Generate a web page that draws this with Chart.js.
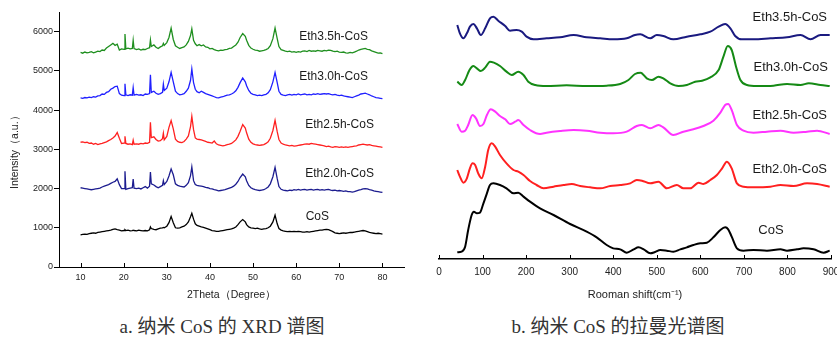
<!doctype html>
<html lang="zh">
  <head>
    <meta charset="UTF-8" />
    <title>纳米 CoS 的 XRD 与拉曼光谱</title>
    <style>
      html, body {
        margin: 0;
        padding: 0;
        background: #fff;
      }
      #page {
        position: relative;
        width: 837px;
        height: 338px;
        overflow: hidden;
      }
      canvas {
        position: absolute;
        top: 0;
      }
      #xrd { left: 0; }
      #raman { left: 420px; }
      .caption {
        position: absolute;
        top: 316px;
        font-family: 'Liberation Serif', 'Noto Sans CJK SC', serif;
        font-size: 19px;
        line-height: 22px;
        color: #333;
        text-align: center;
        white-space: nowrap;
      }
      #cap-a { left: 0; width: 444px; }
      #cap-b { left: 418px; width: 400px; }
    </style>
  </head>
  <body>
    <div id="page">
      <canvas id="xrd" width="420" height="310"></canvas>
      <canvas id="raman" width="417" height="310"></canvas>
      <div class="caption" id="cap-a">a. 纳米 CoS 的 XRD 谱图</div>
      <div class="caption" id="cap-b">b. 纳米 CoS 的拉曼光谱图</div>
    </div>

    <script src="https://cdn.jsdelivr.net/npm/chart.js"></script>
    <script>
      // ---- XRD (left) ----
      const sampleNames = ['Eth3.5h-CoS', 'Eth3.0h-CoS', 'Eth2.5h-CoS', 'Eth2.0h-CoS', 'CoS'];

      const xrdTheta = [
        10, 10.5, 11, 11.5, 12, 12.5, 13, 13.5, 14, 14.5,
        15, 15.5, 16, 16.5, 17, 17.5, 18, 18.5, 19, 19.5,
        20.1, 20.3, 20.5, 21, 21.5, 22.0, 22.2, 22.4, 23, 23.5,
        24, 24.5, 25, 25.5, 26.0, 26.2, 26.4, 27, 27.5, 28,
        28.5, 29.0, 29.2, 29.4, 30, 30.5, 31, 31.5, 32, 32.5,
        33, 33.5, 34, 34.5, 35, 35.5, 35.8, 36.2, 36.6, 37,
        37.5, 38, 38.5, 39, 39.5, 40, 40.5, 41, 41.5, 42,
        42.5, 43, 43.5, 44, 44.5, 45, 45.5, 46, 46.5, 47,
        47.6, 48.2, 48.5, 49, 49.5, 50, 50.5, 51, 51.5, 52,
        52.5, 53, 53.5, 54, 54.6, 55.1, 55.6, 56, 56.5, 57,
        57.5, 58, 58.5, 59, 59.5, 60, 60.5, 61, 61.5, 62,
        62.5, 63, 63.5, 64, 64.5, 65, 65.5, 66, 66.5, 67,
        67.5, 68, 68.5, 69, 69.5, 70, 70.5, 71, 71.5, 72,
        72.5, 73, 73.5, 74, 74.5, 75, 75.5, 76, 76.5, 77,
        77.5, 78, 78.5, 79, 79.5, 80
      ];
      const xrdEth35 = [
        5470, 5450, 5480, 5460, 5470, 5490, 5460, 5480, 5500, 5490,
        5530, 5520, 5580, 5620, 5660, 5700, 5650, 5680, 5530, 5560,
        5550, 5940, 5560, 5580, 5560, 5570, 5780, 5570, 5540, 5560,
        5530, 5550, 5540, 5570, 5590, 5790, 5620, 5660, 5600, 5570,
        5610, 5640, 5700, 5650, 5720, 5850, 6090, 5800, 5640, 5600,
        5570, 5590, 5610, 5660, 5750, 5900, 6070, 5780, 5690, 5640,
        5670, 5640, 5660, 5610, 5600, 5560, 5570, 5540, 5520, 5510,
        5530, 5520, 5540, 5550, 5570, 5580, 5620, 5660, 5730, 5850,
        5950, 5880, 5780, 5650, 5580, 5550, 5530, 5520, 5500, 5510,
        5520, 5540, 5570, 5640, 5820, 6090, 5820, 5620, 5540, 5520,
        5500, 5490, 5500, 5480, 5490, 5470, 5490, 5480, 5500, 5510,
        5490, 5520, 5500, 5510, 5500, 5520, 5510, 5500, 5520, 5510,
        5530, 5520, 5500, 5490, 5500, 5480, 5470, 5480, 5460, 5450,
        5470, 5460, 5480, 5500, 5530, 5550, 5560, 5570, 5550, 5540,
        5510, 5490, 5470, 5450, 5460, 5440
      ];
      const xrdEth30 = [
        4310, 4300, 4320, 4310, 4330, 4320, 4340, 4330, 4360, 4370,
        4410, 4400, 4450, 4470, 4530, 4560, 4600, 4610, 4420, 4380,
        4370, 4670, 4390, 4370, 4390, 4380, 4570, 4380, 4400, 4380,
        4390, 4370, 4410, 4400, 4420, 4900, 4450, 4480, 4430, 4400,
        4420, 4450, 4660, 4500, 4560, 4720, 4960, 4720, 4480, 4420,
        4390, 4400, 4420, 4480, 4560, 4760, 5050, 4700, 4530, 4470,
        4440, 4480, 4450, 4420, 4400, 4380, 4360, 4340, 4320, 4310,
        4330, 4340, 4360, 4380, 4390, 4410, 4440, 4490, 4580, 4700,
        4820, 4720, 4620, 4500, 4430, 4400, 4390, 4370, 4380, 4370,
        4390, 4400, 4440, 4520, 4720, 4960, 4700, 4480, 4400, 4380,
        4370, 4390, 4400, 4380, 4400, 4390, 4410, 4390, 4400, 4410,
        4390, 4400, 4390, 4410, 4400, 4420, 4400, 4410, 4420, 4410,
        4420, 4400, 4390, 4400, 4380, 4370, 4380, 4360, 4350, 4340,
        4330, 4320, 4340, 4360, 4380, 4410, 4420, 4430, 4410, 4390,
        4360, 4340, 4320, 4310, 4300, 4290
      ];
      const xrdEth25 = [
        3180, 3190, 3170, 3180, 3150, 3160, 3130, 3150, 3120, 3140,
        3150, 3170, 3190, 3220, 3250, 3290, 3340, 3430, 3280, 3150,
        3160, 3330, 3150, 3130, 3140, 3120, 3230, 3130, 3140, 3130,
        3150, 3140, 3160, 3150, 3180, 3690, 3300, 3320, 3250, 3210,
        3220, 3270, 3410, 3240, 3330, 3560, 3730, 3520, 3260, 3200,
        3180, 3170, 3200, 3260, 3340, 3580, 3840, 3500, 3290, 3260,
        3250, 3240, 3220, 3200, 3180, 3170, 3160, 3210, 3140, 3110,
        3100, 3090, 3100, 3120, 3130, 3150, 3190, 3240, 3330, 3460,
        3630, 3540, 3420, 3260, 3180, 3140, 3120, 3110, 3100, 3110,
        3120, 3150, 3190, 3280, 3480, 3740, 3450, 3250, 3160, 3130,
        3110, 3100, 3090, 3100, 3080, 3090, 3100, 3110, 3120, 3130,
        3140, 3130, 3150, 3140, 3130, 3120, 3110, 3100, 3090, 3070,
        3080, 3060, 3050, 3070, 3060, 3050, 3060, 3050, 3060, 3050,
        3060, 3070, 3080, 3090, 3110, 3120, 3130, 3120, 3110, 3120,
        3100, 3090, 3080, 3070, 3060, 3050
      ];
      const xrdEth20 = [
        2020, 2010, 2000, 1990, 1980, 1970, 1980, 1990, 2000, 2010,
        2040, 2060, 2080, 2100, 2130, 2160, 2180, 2250, 2100, 2000,
        2000, 2440, 1980, 2000, 2010, 2020, 2240, 2010, 2000, 2010,
        1990, 2020, 2050, 2010, 2060, 2420, 2120, 2090, 2050, 2020,
        2050, 2080, 2200, 2100, 2180, 2320, 2500, 2350, 2120, 2080,
        2060, 2050, 2040, 2080, 2150, 2330, 2550, 2200, 2100, 2080,
        2070, 2060, 2050, 2030, 2020, 2000, 1990, 1970, 1960, 1940,
        1950, 1960, 1970, 1990, 2010, 2030, 2060, 2110, 2180, 2280,
        2370, 2300, 2200, 2080, 2020, 1990, 1970, 1960, 1950, 1960,
        1970, 2000, 2040, 2120, 2300, 2540, 2250, 2050, 1980, 1960,
        1950, 1940, 1960, 1950, 1970, 1960, 1980, 1960, 1970, 1980,
        1960, 1970, 1980, 1960, 1970, 1980, 1960, 1970, 1960, 1970,
        1980, 1960, 1950, 1960, 1940, 1950, 1940, 1930, 1940, 1920,
        1920, 1910, 1920, 1940, 1960, 1970, 1990, 2000, 1990, 1970,
        1960, 1940, 1930, 1920, 1910, 1900
      ];
      const xrdCoS = [
        820, 830, 840, 830, 850, 860, 870, 860, 880, 890,
        900, 910, 920, 930, 940, 960, 970, 950, 940, 920,
        930, 950, 930, 940, 920, 930, 940, 930, 920, 940,
        930, 920, 930, 920, 950, 1020, 980, 960, 950, 970,
        990, 1000, 1010, 1000, 1040, 1130, 1290, 1130, 1000, 990,
        1000, 1020, 1040, 1080, 1150, 1280, 1370, 1220, 1100, 1060,
        1040, 1020, 1010, 990, 970, 950, 930, 920, 910, 910,
        920, 930, 940, 950, 960, 970, 990, 1020, 1080, 1150,
        1210, 1150, 1080, 1020, 1000, 990, 980, 990, 970, 960,
        970, 980, 1000, 1040, 1150, 1320, 1100, 980, 940, 920,
        910, 900, 910, 900, 910, 900, 910, 900, 890, 890,
        900, 890, 900, 910, 920, 930, 940, 940, 950, 960,
        950, 930, 900, 870, 860, 850, 860, 870, 860, 870,
        880, 880, 890, 900, 910, 920, 930, 920, 900, 880,
        870, 860, 850, 860, 850, 840
      ];
      const xrdThetaTicks = [10, 20, 30, 40, 50, 60, 70, 80];
      const xrdIntensityTicks = [0, 1000, 2000, 3000, 4000, 5000, 6000];
      // where the sample names sit, in data units
      const xrdLabelTheta = [60.7, 60.7, 62.1, 62.1, 62.2];
      const xrdLabelIntensity = [5870, 4850, 3630, 2390, 1270];

      // ---- Raman (right), arbitrary intensity units ----
      const ramanEth35X = [42, 48, 56, 64, 71, 79, 87, 96, 106, 117, 125, 136, 152, 163, 178, 190, 201, 217, 247, 278,
        309, 339, 370, 400, 431, 450, 462, 485, 500, 515, 538, 569, 600, 623, 642, 657, 669, 680, 695, 722,
        761, 799, 830, 853, 876, 897];
      const ramanEth35Y = [702, 677, 662, 677, 697, 705, 692, 672, 692, 722, 727, 715, 699, 685, 687, 682, 667, 659, 662, 665,
        672, 665, 662, 659, 662, 672, 674, 662, 672, 669, 659, 667, 674, 682, 697, 705, 692, 669, 659, 659,
        662, 665, 672, 659, 672, 672];
      const ramanEth30X = [42, 52, 60, 70, 79, 87, 96, 106, 117, 126, 140, 155, 167, 182, 194, 205, 221, 247, 293, 339,
        385, 416, 435, 450, 463, 477, 489, 504, 515, 531, 550, 569, 588, 604, 623, 642, 653, 663, 672, 682,
        692, 707, 730, 768, 799, 830, 849, 876, 897];
      const ramanEth30Y = [532, 522, 537, 567, 579, 572, 564, 574, 592, 589, 579, 562, 552, 562, 552, 532, 522, 519, 521, 519,
        520, 525, 537, 555, 559, 542, 537, 547, 542, 527, 519, 522, 532, 535, 545, 567, 607, 639, 627, 577,
        537, 522, 519, 520, 525, 522, 527, 522, 519];
      const ramanEth25X = [42, 52, 60, 67, 77, 85, 94, 102, 110, 119, 129, 140, 152, 163, 175, 182, 194, 209, 232, 247,
        278, 309, 339, 370, 400, 431, 454, 466, 485, 504, 515, 538, 561, 584, 607, 630, 646, 657, 664, 672,
        684, 699, 722, 753, 784, 814, 845, 868, 897];
      const ramanEth25Y = [405, 382, 385, 402, 432, 422, 399, 405, 432, 449, 442, 429, 419, 405, 412, 417, 402, 387, 375, 379,
        384, 387, 385, 379, 377, 382, 399, 402, 392, 402, 395, 372, 382, 389, 399, 415, 439, 462, 465, 447,
        402, 385, 379, 382, 385, 379, 382, 385, 375];
      const ramanEth20X = [42, 48, 56, 64, 71, 77, 83, 90, 98, 106, 113, 121, 129, 140, 155, 171, 182, 194, 209, 224,
        240, 263, 286, 305, 324, 347, 370, 393, 416, 439, 454, 466, 485, 504, 523, 546, 561, 577, 596, 607,
        623, 638, 650, 661, 672, 684, 699, 722, 761, 784, 814, 845, 868, 897];
      const ramanEth20Y = [267, 247, 229, 242, 272, 287, 282, 257, 242, 277, 327, 347, 337, 312, 287, 267, 262, 252, 234, 222,
        212, 217, 222, 225, 219, 215, 212, 219, 222, 227, 237, 235, 227, 232, 212, 222, 212, 212, 229, 225,
        237, 252, 272, 292, 272, 227, 217, 215, 217, 222, 219, 227, 225, 217];
      const ramanCoSX = [42, 52, 60, 67, 75, 80, 87, 94, 102, 110, 117, 125, 140, 155, 171, 182, 194, 209, 232, 263,
        301, 339, 362, 385, 400, 416, 431, 447, 458, 470, 485, 496, 508, 523, 538, 554, 569, 584, 600, 615,
        630, 646, 657, 664, 672, 684, 699, 722, 753, 784, 799, 822, 837, 860, 883, 897];
      const ramanCoSY = [20, 22, 37, 87, 132, 142, 137, 139, 167, 197, 222, 227, 222, 212, 197, 199, 187, 172, 152, 132,
        105, 82, 65, 42, 32, 29, 19, 29, 35, 29, 17, 21, 27, 25, 22, 29, 35, 42, 47, 49,
        65, 87, 95, 89, 67, 32, 25, 27, 25, 29, 25, 29, 32, 29, 19, 25];
      const ramanShiftTicks = [0, 100, 200, 300, 400, 500, 600, 700, 800, 900];
      const ramanLabelShift = [720, 722, 720, 720, 733];
      const ramanLabelY = [726, 576, 432, 270, 87];

      Chart.defaults.font.family = "'Liberation Sans', Arial, sans-serif";
      Chart.defaults.color = '#222';

      function pairs(xs, ys) {
        return xs.map((x, i) => ({ x: x, y: ys[i] }));
      }

      function fixedTicks(values) {
        return scale => {
          scale.ticks = values.map(v => ({ value: v }));
        };
      }

      // inward tick marks on the x axis + the sample names next to each curve
      function decorations(id, tickLen, font, labelX, labelY) {
        return {
          id: id,
          afterDraw(chart) {
            const ctx = chart.ctx;
            const xs = chart.scales.x;
            const ys = chart.scales.y;
            const bottom = chart.chartArea.bottom;
            ctx.save();
            ctx.strokeStyle = '#000';
            ctx.lineWidth = 1;
            xs.ticks.forEach(t => {
              const px = Math.round(xs.getPixelForValue(t.value)) + 0.5;
              ctx.beginPath();
              ctx.moveTo(px, bottom);
              ctx.lineTo(px, bottom - tickLen);
              ctx.stroke();
            });
            ctx.font = font;
            ctx.fillStyle = '#1a1a1a';
            ctx.textBaseline = 'middle';
            ctx.textAlign = 'left';
            sampleNames.forEach((name, i) => {
              ctx.fillText(name, xs.getPixelForValue(labelX[i]), ys.getPixelForValue(labelY[i]));
            });
            ctx.restore();
          }
        };
      }

      new Chart(document.getElementById('xrd'), {
        type: 'line',
        data: {
          datasets: [
            { data: pairs(xrdTheta, xrdEth35), borderColor: '#1f8f1f' },
            { data: pairs(xrdTheta, xrdEth30), borderColor: '#2020ff' },
            { data: pairs(xrdTheta, xrdEth25), borderColor: '#ff2020' },
            { data: pairs(xrdTheta, xrdEth20), borderColor: '#1c1c8f' },
            { data: pairs(xrdTheta, xrdCoS), borderColor: '#000000' },
          ],
        },
        options: {
          responsive: false,
          animation: false,
          devicePixelRatio: 1,
          elements: {
            point: { radius: 0 },
            line: { borderWidth: 1.3, tension: 0 },
          },
          layout: { padding: { left: 0, right: 16, top: 12, bottom: 0 } },
          plugins: { legend: { display: false }, tooltip: { enabled: false } },
          scales: {
            x: {
              type: 'linear',
              min: 5,
              max: 85,
              afterBuildTicks: fixedTicks(xrdThetaTicks),
              ticks: { padding: 5, maxRotation: 0, font: { size: 9 }, callback: v => v },
              grid: { drawOnChartArea: false, drawTicks: false },
              border: { color: '#000', width: 1 },
              title: {
                display: true,
                text: '2Theta（Degree）',
                font: { size: 10.5 },
                color: '#222',
                padding: { top: 0, bottom: 9 },
              },
              afterFit(s) {
                s.height = 43;
                s.paddingLeft = 0;
                s.paddingRight = 0;
              },
            },
            y: {
              type: 'linear',
              min: 0,
              max: 6500,
              afterBuildTicks: fixedTicks(xrdIntensityTicks),
              ticks: { padding: 1, font: { size: 9 }, callback: v => v },
              grid: { drawOnChartArea: false, drawTicks: true, tickLength: 5, tickColor: '#000' },
              border: { color: '#000', width: 1 },
              title: {
                display: true,
                text: 'Intensity（a.u.）\u00a0\u00a0\u00a0\u00a0\u00a0\u00a0\u00a0',
                font: { size: 10.5 },
                color: '#222',
                padding: { top: 9, bottom: 0 },
              },
              afterFit(s) {
                s.width = 59;
                s.paddingTop = 0;
                s.paddingBottom = 0;
              },
            },
          },
        },
        plugins: [decorations('xrdDeco', 4, '12px "Liberation Sans", Arial, sans-serif', xrdLabelTheta, xrdLabelIntensity)],
      });

      new Chart(document.getElementById('raman'), {
        type: 'line',
        data: {
          datasets: [
            { data: pairs(ramanEth35X, ramanEth35Y), borderColor: '#1a1a80' },
            { data: pairs(ramanEth30X, ramanEth30Y), borderColor: '#158a15' },
            { data: pairs(ramanEth25X, ramanEth25Y), borderColor: '#ff33ff' },
            { data: pairs(ramanEth20X, ramanEth20Y), borderColor: '#ff2020' },
            { data: pairs(ramanCoSX, ramanCoSY), borderColor: '#000000' },
          ],
        },
        options: {
          responsive: false,
          animation: false,
          devicePixelRatio: 1,
          elements: {
            point: { radius: 0 },
            line: { borderWidth: 2, cubicInterpolationMode: 'monotone' },
          },
          layout: { padding: { left: 19, right: 6, top: 0, bottom: 0 } },
          plugins: { legend: { display: false }, tooltip: { enabled: false } },
          scales: {
            x: {
              type: 'linear',
              min: 0,
              max: 900,
              afterBuildTicks: fixedTicks(ramanShiftTicks),
              ticks: { padding: 7, maxRotation: 0, autoSkip: false, font: { size: 10 }, callback: v => v },
              grid: { drawOnChartArea: false, drawTicks: false },
              border: { color: '#000', width: 1.5 },
              title: {
                display: true,
                text: 'Rooman shift(cm⁻¹)',
                font: { size: 11 },
                color: '#222',
                padding: { top: 0, bottom: 8 },
              },
              afterFit(s) {
                s.height = 51;
                s.paddingLeft = 0;
                s.paddingRight = 0;
              },
            },
            y: {
              type: 'linear',
              min: 0,
              max: 777,
              display: false,
            },
          },
        },
        plugins: [decorations('ramanDeco', 4, '13px "Liberation Sans", Arial, sans-serif', ramanLabelShift, ramanLabelY)],
      });
    </script>
  </body>
</html>
